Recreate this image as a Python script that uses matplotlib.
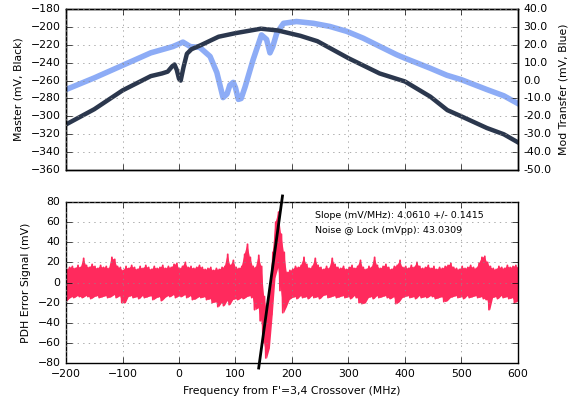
import numpy as np
import matplotlib
matplotlib.use("Agg")
import matplotlib.pyplot as plt
from matplotlib.ticker import FormatStrFormatter, MultipleLocator

# master transmission (left axis, mV)
master_freq = [-200, -150, -100, -50, -30, -20, -12, -8, -4, 0, 3, 8, 14, 22, 40, 70, 100,
               145, 175, 215, 245, 300, 355, 400, 445, 475, 500, 545, 575, 600]
master_mv = [-309, -292, -271, -255, -252, -250, -244, -242, -248, -258, -260, -245, -230, -225,
             -220, -211, -207, -202, -204, -210, -216, -235, -252, -261, -278, -293, -300, -313,
             -320, -329]

# modulation transfer (right axis, mV)
mod_freq = [-200, -150, -100, -50, -11, 0, 7, 20, 37, 55, 67, 78, 85, 90, 96, 100, 105, 110,
            117, 131, 146, 155, 161, 166, 173, 185, 208, 238, 267, 297, 326, 356, 385, 400,
            444, 474, 500, 545, 575, 598]
mod_mv = [-5, 1.5, 8.5, 15.5, 19, 20.5, 21.5, 19, 18.5, 13.5, 4.5, -9.5, -7.5, -2.5, -1, -4,
          -10.5, -10, -3.5, 11.5, 25.5, 23, 15.5, 19, 26.5, 32, 33, 32, 30.25, 27.5, 23.7, 19,
          14.5, 12.5, 7, 3, 0.5, -5, -8.5, -12.5]

# PDH error signal envelope, sampled every 5 MHz from -200 to 600
pdh_freq = np.arange(-200, 601, 5)
pdh_upper = [13, 15, 16, 14, 17, 15, 24, 17, 15, 18, 16, 14, 17, 15, 16, 14, 25, 23, 16, 15,
             12, 16, 14, 17, 15, 13, 16, 14, 17, 15, 13, 16, 14, 15, 17, 14, 16, 15, 18, 19,
             14, 16, 20, 15, 16, 14, 15, 17, 15, 13, 14, 15, 12, 14, 13, 15, 16, 28, 17, 22,
             15, 14, 16, 28, 38, 25, 16, 15, 27, 16, -14, -30, -2, 30, 60, 70, 48, 30, 10, 12,
             13, 16, 15, 17, 25, 18, 14, 16, 24, 17, 15, 13, 16, 14, 24, 18, 15, 14, 16, 13,
             15, 17, 14, 16, 22, 15, 13, 16, 15, 25, 17, 14, 16, 18, 15, 13, 16, 17, 22, 15,
             16, 14, 17, 15, 20, 16, 14, 15, 17, 14, 16, 13, 15, 14, 16, 17, 19, 15, 14, 13,
             16, 14, 15, 17, 15, 14, 19, 25, 26, 20, 16, 14, 13, 16, 15, 14, 17, 15, 16, 17, 15]
pdh_lower = [-19, -16, -14, -15, -13, -14, -15, -13, -14, -16, -14, -13, -15, -14, -13, -15, -14, -12, -15, -13,
             -20, -20, -14, -13, -15, -14, -16, -13, -15, -14, -13, -17, -15, -14, -18, -15, -13, -14, -12, -15,
             -13, -14, -12, -15, -13, -17, -16, -14, -15, -14, -17, -16, -20, -19, -24, -20, -23, -18, -22, -17,
             -16, -17, -15, -16, -14, -13, -15, -27, -25, -38, -60, -75, -65, -32, 5, 15, -8, -30, -24, -17,
             -15, -14, -16, -13, -15, -14, -16, -13, -15, -14, -16, -13, -12, -15, -14, -13, -15, -14, -13, -15,
             -14, -16, -13, -15, -20, -21, -20, -15, -14, -16, -13, -15, -14, -13, -15, -16, -14, -21, -19, -15,
             -14, -13, -15, -14, -16, -13, -15, -14, -15, -13, -14, -16, -15, -14, -19, -18, -15, -14, -13, -15,
             -14, -16, -13, -15, -14, -13, -15, -14, -16, -17, -27, -15, -14, -16, -13, -15, -14, -16, -15, -20, -18]

fit_slope = 4.0610
fit_err = 0.1415
fit_x0 = 162.0
noise_vpp = 43.0309

plt.style.use("classic")
plt.rcParams["font.size"] = 7.8
plt.rcParams["figure.facecolor"] = "white"
plt.rcParams["grid.color"] = "0.55"

fig = plt.figure(figsize=(5.77, 4.05), dpi=100)
ax1 = fig.add_axes([0.1144, 0.580, 0.7833, 0.3978])
ax2 = ax1.twinx()
ax3 = fig.add_axes([0.1144, 0.1037, 0.7833, 0.3975])

### top: master + mod transfer
ax1.plot(master_freq, master_mv, c="#2b374d", lw=3.2)
ax2.plot(mod_freq, mod_mv, c="#8dacf6", lw=4)
ax1.set_zorder(ax2.get_zorder() + 1)
ax1.patch.set_visible(False)
ax1.set_xlim(-200, 600)
ax1.set_ylim(-360, -180)
ax1.yaxis.set_major_locator(MultipleLocator(20))
ax1.xaxis.set_major_locator(MultipleLocator(100))
ax1.set_xticklabels([])
ax1.set_ylabel("Master (mV, Black)")
ax1.grid(True)
ax2.set_ylim(-50, 40)
ax2.yaxis.set_major_locator(MultipleLocator(10))
ax2.yaxis.set_major_formatter(FormatStrFormatter("%.1f"))
ax2.set_ylabel("Mod Transfer (mV, Blue)")

### bottom: PDH error signal, drawn as a trace swinging between the envelopes
lo = np.array(pdh_lower)
hi = np.array(pdh_upper)
tx = np.column_stack([pdh_freq - 1.25, pdh_freq + 1.25]).ravel()
ty = np.column_stack([lo, hi]).ravel()
ax3.fill_between(pdh_freq, lo, hi, color="#ff2a5d", lw=0, zorder=2)
ax3.plot(tx, ty, c="#ff2a5d", lw=1.3, zorder=2)
fy = np.array([-85, 86])
ax3.plot(fit_x0 + fy / fit_slope, fy, c="black", lw=2, clip_on=False, zorder=3)
ax3.text(240, 67, "Slope (mV/MHz): %.4f +/- %.4f" % (fit_slope, fit_err), fontsize=6.8, va="center")
ax3.text(240, 52, "Noise @ Lock (mVpp): %.4f" % noise_vpp, fontsize=6.8, va="center")
ax3.set_xlim(-200, 600)
ax3.set_ylim(-80, 80)
ax3.yaxis.set_major_locator(MultipleLocator(20))
ax3.xaxis.set_major_locator(MultipleLocator(100))
ax3.set_xlabel("Frequency from F'=3,4 Crossover (MHz)")
ax3.set_ylabel("PDH Error Signal (mV)")
ax3.grid(True)

fig.savefig("out.png", dpi=100)
